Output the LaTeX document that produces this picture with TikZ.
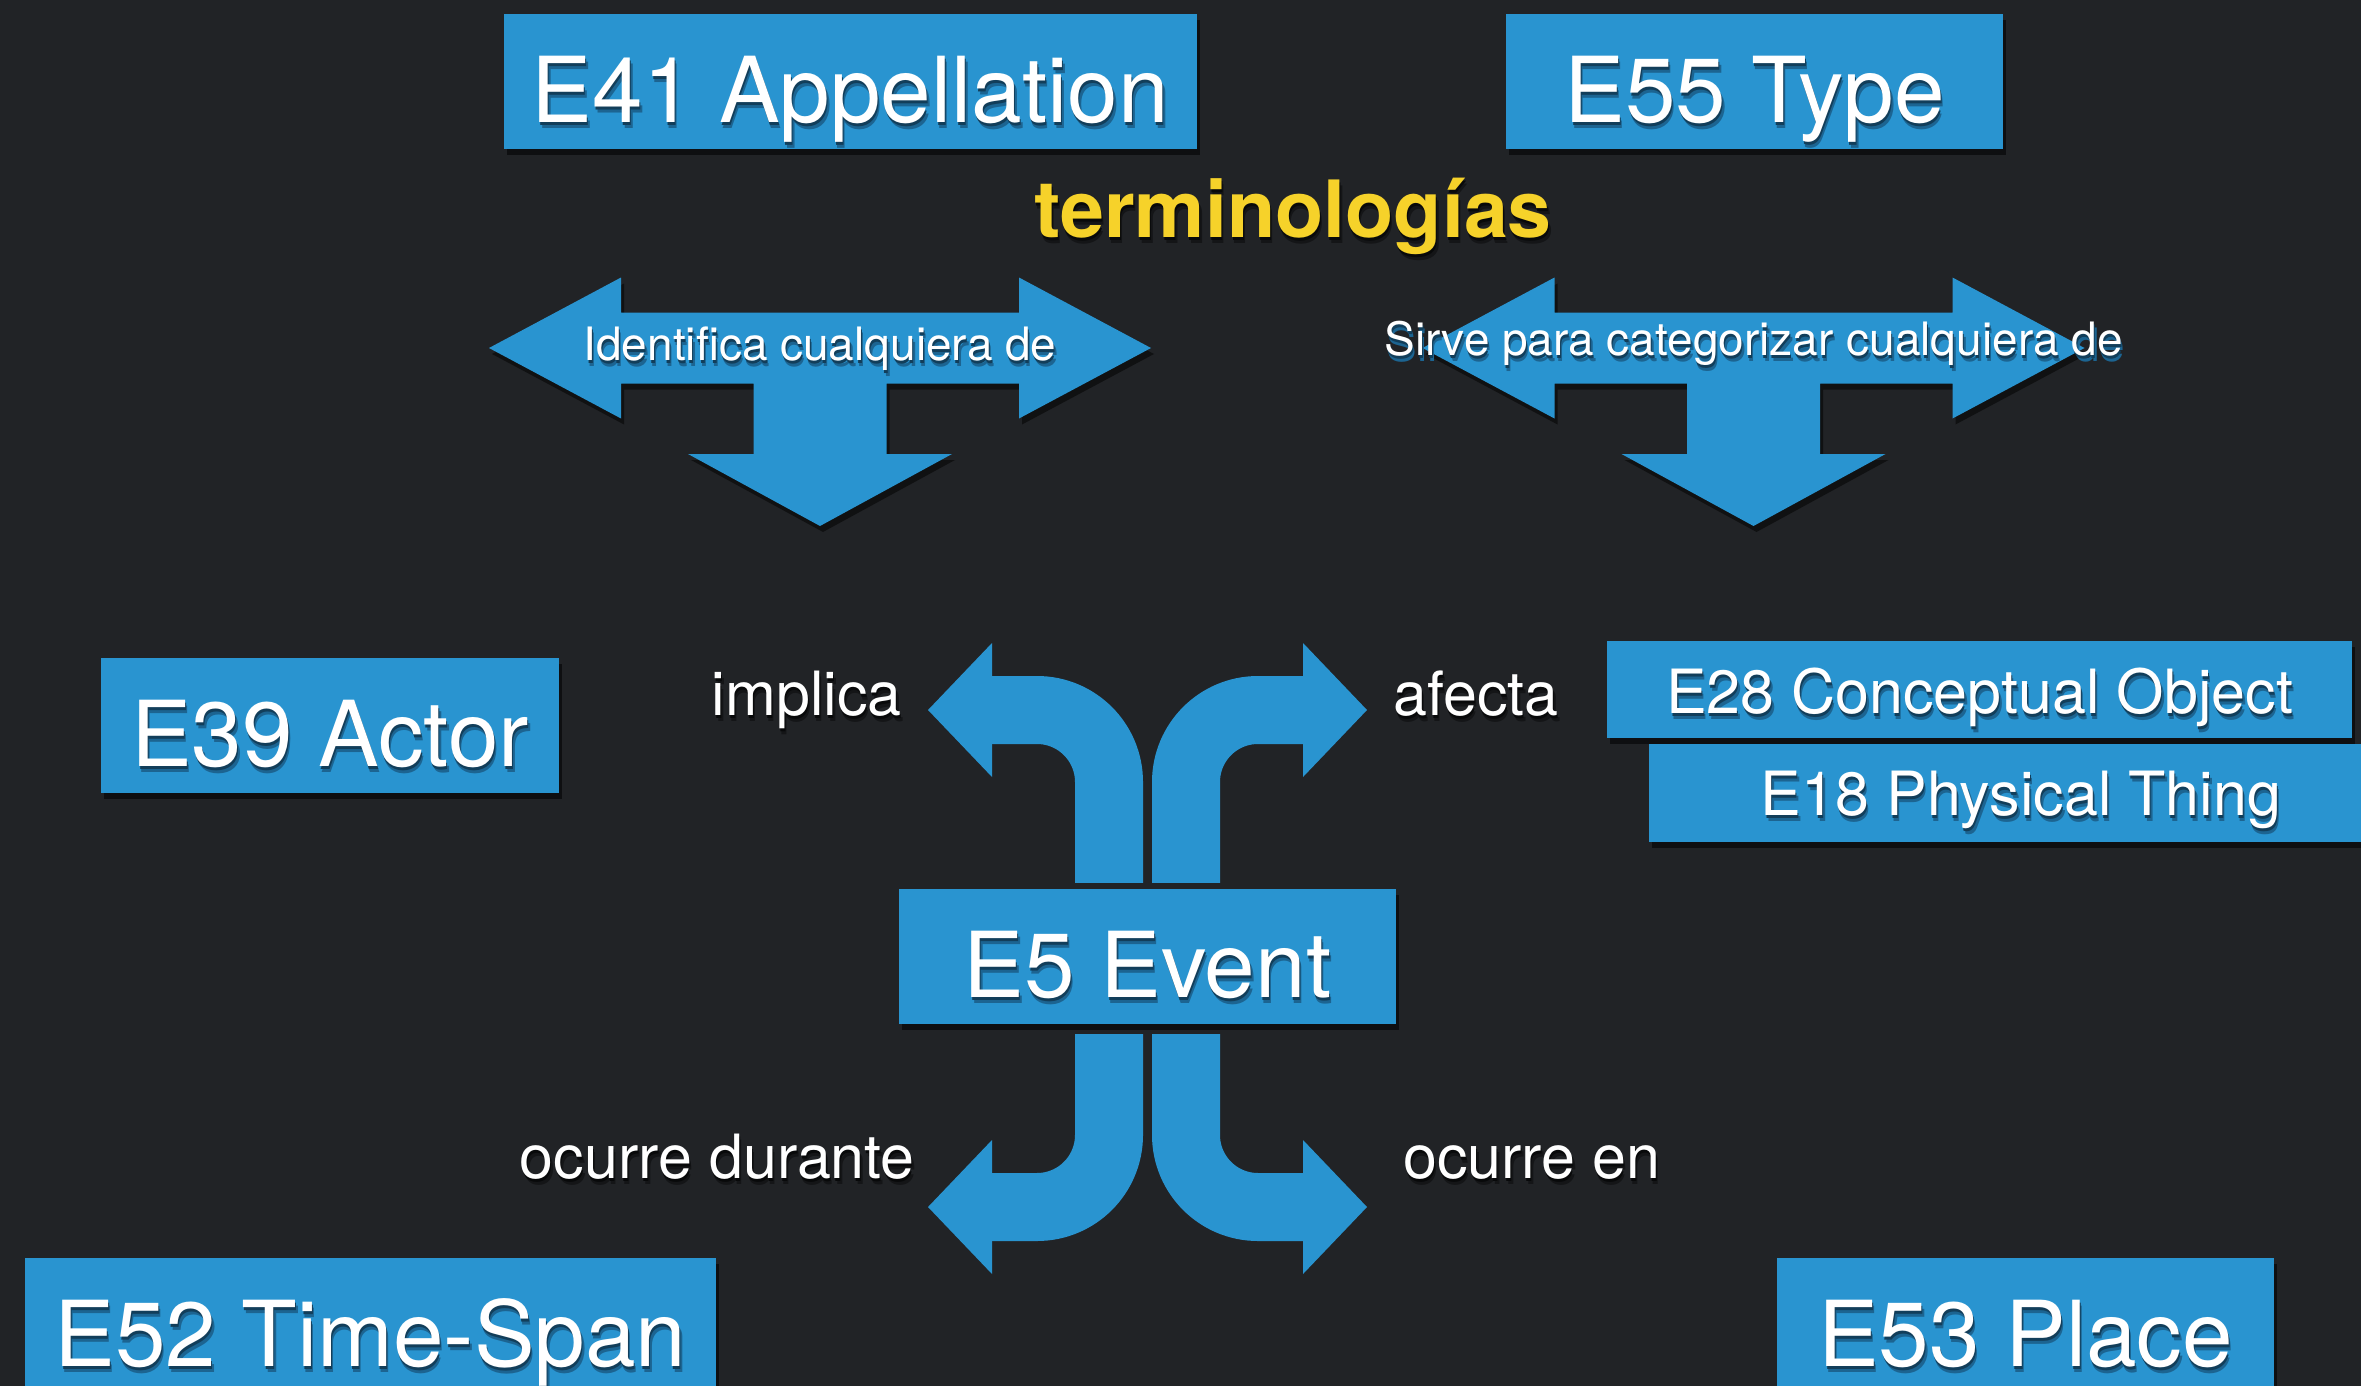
\documentclass[tikz,border=0pt]{standalone}
\usepackage{fontspec}
\setmainfont{TeX Gyre Heros}
\usetikzlibrary{shadows}
\definecolor{bg}{RGB}{33,35,38}
\definecolor{cblue}{RGB}{41,148,208}
\definecolor{cyellow}{RGB}{246,210,42}
\definecolor{shA}{RGB}{18,62,90}
\definecolor{shB}{RGB}{28,100,145}
\definecolor{shK}{RGB}{8,9,10}
\definecolor{shL}{RGB}{20,21,23}
\newcommand{\setfs}[1]{\fontsize{#1}{#1}\selectfont}
\newcommand{\shcol}[3]{\makebox[0pt][l]{\hspace{2.5pt}\raisebox{-6pt}[0pt][0pt]{\color{#2}#3}}\makebox[0pt][l]{\hspace{1pt}\raisebox{-3.5pt}[0pt][0pt]{\color{#1}#3}}#3}
\newcommand{\shtext}[1]{\shcol{shA}{shB}{#1}}
\newcommand{\shdark}[1]{\shcol{shK}{shL}{#1}}
\tikzset{
  box/.style={fill=cblue, inner sep=0pt, text=white, font=\setfs{91},
    text height=108pt, text depth=27pt,
    drop shadow={opacity=0.55, shadow xshift=3pt, shadow yshift=-6pt, fill=black}},
  smallbox/.style={box, font=\setfs{61}},
  lbl/.style={text=white, inner sep=0pt, font=\setfs{61}},
  tlbl/.style={text=white, inner sep=0pt, anchor=base, font=\setfs{46}},
  bandline/.style={draw=cblue, line width=68pt, rounded corners=72pt},
  bluehead/.style={fill=cblue},
  tarrow/.pic={
    \fill[cblue, drop shadow={opacity=0.5, shadow xshift=3pt, shadow yshift=-6pt, fill=black}]
      (-331,0) -- (-199,-70.5) -- (-199,-35.5) -- (199,-35.5) -- (199,-70.5) -- (331,0)
      -- (199,70.5) -- (199,35.5) -- (66.5,35.5) -- (66.5,106) -- (132,106) -- (0,178)
      -- (-132,106) -- (-66.5,106) -- (-66.5,35.5) -- (-199,35.5) -- (-199,70.5) -- cycle;
  }
}
\begin{document}
\begin{tikzpicture}[x=1pt,y=-1pt]
\clip (0,0) rectangle (2361,1386);
\fill[bg] (0,0) rectangle (2361,1386);

% top boxes and title
\node[box, minimum width=693pt] (app) at (850.5,82) {\shtext{E41 Appellation}};
\node[box, minimum width=497pt] (typ) at (1754.5,82) {\shtext{E55 Type}};
\node[font=\bfseries\setfs{79}, text=cyellow, anchor=base, inner sep=0pt] (term) at (1293,237) {\shdark{terminologías}};

% T-shaped arrows
\pic at (820,348) {tarrow};
\pic at (1753.5,348) {tarrow};
\node[tlbl] (idt) at (820,360) {\shtext{Identifica cualquiera de}};
\node[tlbl] (srv) at (1753.5,355) {\shtext{Sirve para categorizar cualquiera de}};

% middle boxes
\node[box, minimum width=458pt] (act) at (330,725.5) {\shtext{E39 Actor}};
\node[smallbox, minimum width=745pt, text height=72pt, text depth=25pt] (cob) at (1979.5,689.5) {\shtext{E28 Conceptual Object}};
\node[smallbox, minimum width=744pt, text height=71pt, text depth=27pt] (pht) at (2021,793) {\shtext{E18 Physical Thing}};
\node[box, minimum width=497pt] (ev) at (1147.5,956.5) {\shtext{E5 Event}};

% bottom boxes
\node[box, minimum width=691pt] (ts) at (370.5,1325.5) {\shtext{E52 Time-Span}};
\node[box, minimum width=497pt] (pl) at (2025.5,1325.5) {\shtext{E53 Place}};

% curved arrows from E5 Event
\coordinate (ulS) at ([xshift=-38.5pt,yshift=6pt]ev.north);
\coordinate (urS) at ([xshift=38.5pt,yshift=6pt]ev.north);
\coordinate (llS) at ([xshift=-38.5pt,yshift=-10pt]ev.south);
\coordinate (lrS) at ([xshift=38.5pt,yshift=-10pt]ev.south);
\coordinate (ulT) at (928,710);
\coordinate (urT) at (1367,710);
\coordinate (llT) at (928,1207);
\coordinate (lrT) at (1367,1207);

\draw[bandline] (ulS) -- (ulS |- ulT) -- ([xshift=58pt]ulT);
\fill[bluehead] ([xshift=64pt,yshift=67pt]ulT) -- (ulT) -- ([xshift=64pt,yshift=-67pt]ulT) -- cycle;
\draw[bandline] (urS) -- (urS |- urT) -- ([xshift=-58pt]urT);
\fill[bluehead] ([xshift=-64pt,yshift=67pt]urT) -- (urT) -- ([xshift=-64pt,yshift=-67pt]urT) -- cycle;
\draw[bandline] (llS) -- (llS |- llT) -- ([xshift=58pt]llT);
\fill[bluehead] ([xshift=64pt,yshift=67pt]llT) -- (llT) -- ([xshift=64pt,yshift=-67pt]llT) -- cycle;
\draw[bandline] (lrS) -- (lrS |- lrT) -- ([xshift=-58pt]lrT);
\fill[bluehead] ([xshift=-64pt,yshift=67pt]lrT) -- (lrT) -- ([xshift=-64pt,yshift=-67pt]lrT) -- cycle;

% arrow labels
\node[lbl, anchor=base east] (imp) at (902,715) {\shdark{implica}};
\node[lbl, anchor=base west] (afe) at (1393,715) {\shdark{afecta}};
\node[lbl, anchor=base east] (ocd) at (915,1178) {\shdark{ocurre durante}};
\node[lbl, anchor=base west] (oce) at (1403,1178) {\shdark{ocurre en}};
\end{tikzpicture}
\end{document}
